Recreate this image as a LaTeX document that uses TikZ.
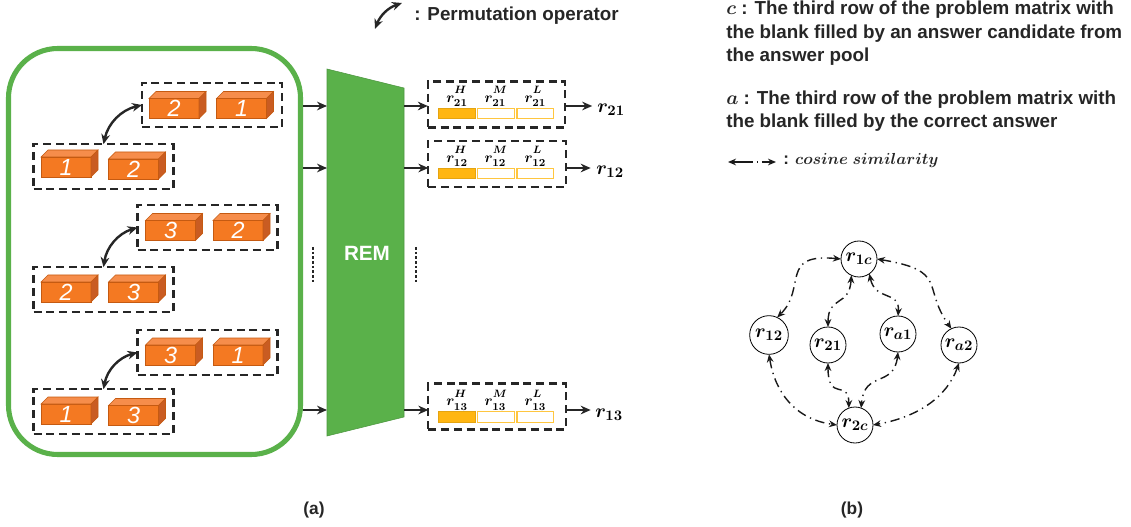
\documentclass[tikz,border=0pt]{standalone}
\usepackage[no-math]{fontspec}
\usepackage{amsmath,bm}
\setmainfont{Liberation Sans}
\usepackage{tikz}
\usetikzlibrary{arrows.meta,positioning}
\definecolor{remgreen}{HTML}{5AB14A}
\definecolor{brickfront}{HTML}{F47922}
\definecolor{bricktop}{HTML}{F68D4B}
\definecolor{brickside}{HTML}{C95C22}
\definecolor{brickline}{HTML}{C55A11}
\definecolor{barfill}{HTML}{FFB612}
\definecolor{barline}{HTML}{FFC63F}
% one brick: name, x, y, digit
\newcommand{\brick}[4]{%
    \node [brick] (#1) at (#2,#3) {#4};
    \draw [brickline,fill=bricktop,line width=0.4pt] (#1.north west) -- ++(7,-7) -- ++(50,0) -- (#1.north east) -- cycle;
    \draw [brickline,fill=brickside,line width=0.4pt] (#1.north east) -- ++(7,-7) -- ++(0,20) -- (#1.south east) -- cycle;
}
% score label with the level raised clear of the index
\newcommand{\level}[2]{$r_{#1}^{\raisebox{2.5pt}{$\scriptstyle #2$}}$}
% one row of three bars with labels: name, y of bars, index
\newcommand{\barrow}[3]{%
    \node [bar,fill=barfill,draw=barfill!90!black] (#1h) at (457,#2) {};
    \node [bar,right=2.5 of #1h] (#1m) {};
    \node [bar,right=2.5 of #1m] (#1l) {};
    \node [score,above=-1 of #1h] {\level{#3}{H}};
    \node [score,above=-1 of #1m] {\level{#3}{M}};
    \node [score,above=-1 of #1l] {\level{#3}{L}};
}
\begin{document}
\begin{tikzpicture}[x=0.75pt,y=-0.75pt]
% STYLES
\tikzset{%
    brick/.style={%
        rectangle,fill=brickfront,draw=brickline,line width=0.4pt,minimum width=37.5pt,
        minimum height=15pt,inner sep=0pt,outer sep=0pt,text=white,font=\fontsize{17.5}{15}\selectfont\itshape
    },
    group/.style={%
        rectangle,draw=black!85,line width=1.6pt,dash pattern=on 6pt off 3.6pt,
        minimum width=105pt,minimum height=33.5pt,inner sep=0pt,outer sep=0pt
    },
    output/.style={group,minimum width=103pt,minimum height=34.5pt},
    bar/.style={%
        rectangle,draw=barline,fill=white,line width=0.8pt,minimum width=27.5pt,
        minimum height=8pt,inner sep=0pt,outer sep=0pt
    },
    score/.style={inner sep=0pt,font=\fontsize{11}{11}\selectfont\boldmath},
    result/.style={inner sep=0pt,font=\fontsize{15.5}{15}\selectfont\boldmath},
    flow/.style={-{Stealth[length=7.5pt,width=6.5pt]},line width=1.8pt,black!85},
    swap/.style={{Stealth[length=7.5pt,width=6.5pt]}-{Stealth[length=7.5pt,width=6.5pt]},line width=1.8pt,black!85},
    sim/.style={{Stealth[length=6pt,width=5pt]}-{Stealth[length=6pt,width=5pt]},line width=1.05pt,black!90,dash pattern=on 7pt off 3.5pt on 1pt off 3.5pt},
    rep/.style={circle,draw=black,line width=0.6pt,fill=white,minimum size=27pt,inner sep=0pt,outer sep=0pt,font=\fontsize{15.5}{15}\selectfont\boldmath},
    note/.style={anchor=north west,inner sep=0pt,align=left,text=black!85,font=\fontsize{14.1}{17.6}\selectfont\bfseries},
    caption/.style={inner sep=0pt,text=black!85,font=\fontsize{13}{14}\selectfont\bfseries},
    dots/.style={line width=2pt,black!85,dash pattern=on 1.9pt off 1.6pt}
}
\useasboundingbox (0,0) rectangle (1131,527);
% Draw input pool
\node [draw=remgreen,line width=3.8pt,rounded corners=37pt,minimum width=219pt,minimum height=304.5pt,inner sep=0pt] (pool) at (154.5,251.5) {};
\node [group] (g1) at (212,105) {};
\node [group] (g2) at (103.5,166.5) {};
\node [group] (g3) at (207.5,227.5) {};
\node [group] (g4) at (103.5,289.5) {};
\node [group] (g5) at (207.5,352.5) {};
\node [group] (g6) at (103.5,411.5) {};
\brick{b11}{174}{108.5}{2}
\brick{b12}{241.5}{108.5}{1}
\brick{b21}{66}{167}{1}
\brick{b22}{133.5}{169}{2}
\brick{b31}{170.5}{230.5}{3}
\brick{b32}{238}{230.5}{2}
\brick{b41}{66}{292}{2}
\brick{b42}{133.5}{292}{3}
\brick{b51}{170.5}{355}{3}
\brick{b52}{238}{355}{1}
\brick{b61}{66}{414}{1}
\brick{b62}{133.5}{415.5}{3}
% Draw the permutations
\draw [swap] (g1.west) to[bend right=32] (g2.north);
\draw [swap] (g3.west) to[bend right=32] (g4.north);
\draw [swap] (g5.west) to[bend right=32] (g6.north);
% Draw REM
\fill [remgreen,draw=remgreen!85!black,line width=0.4pt] (327,69) -- (404,88) -- (404,417) -- (327,436) -- cycle;
\node [inner sep=0pt,text=white,font=\fontsize{15.5}{15}\selectfont\bfseries] (rem) at (367,253) {REM};
\coordinate (in1) at (327,106);
\coordinate (in2) at (327,168);
\coordinate (in3) at (327,410);
\coordinate (pool1) at (303,106);
\coordinate (pool2) at (303,168);
\coordinate (pool3) at (303,410);
\coordinate (out1) at (404,106);
\coordinate (out2) at (404,168);
\coordinate (out3) at (404,410);
\draw [flow] (pool1) -- (in1);
\draw [flow] (pool2) -- (in2);
\draw [flow] (pool3) -- (in3);
\draw [dots] (313,247) -- (313,283);
\draw [dots] (416,247) -- (416,283);
% Draw outputs
\node [output] (o1) at (496.5,104.5) {};
\node [output] (o2) at (497,164) {};
\node [output] (o3) at (497,406.5) {};
\barrow{a}{113.5}{21}
\barrow{c}{173.5}{12}
\barrow{e}{417}{13}
\node [result,anchor=west] (r1) at (597,110) {$r_{21}$};
\node [result,anchor=west] (r2) at (596,172) {$r_{12}$};
\node [result,anchor=west] (r3) at (595,415) {$r_{13}$};
\draw [flow] (out1) -- (o1.west |- out1);
\draw [flow] (out2) -- (o2.west |- out2);
\draw [flow] (out3) -- (o3.west |- out3);
\draw [flow] (o1.east |- out1) -- ++(27,0);
\draw [flow] (o2.east |- out2) -- ++(25,0);
\draw [flow] (o3.east |- out3) -- ++(25,0);
% Legend
\coordinate (leg1) at (375,29);
\coordinate (leg2) at (402,3);
\draw [swap] (leg1) to[bend left=25] (leg2);
\node [note,anchor=west] (legperm) at (414,15.5) {: Permutation operator};
\node [note] (legc) at (726,1) {$\bm{c}$ : The third row of the problem matrix with\\the blank filled by an answer candidate from\\the answer pool};
\node [note] (lega) at (726,90.5) {$\bm{a}$ : The third row of the problem matrix with\\the blank filled by the correct answer};
\coordinate (sim1) at (728,162);
\coordinate (sim2) at (776,162);
\draw [sim,dash pattern=on 15pt off 3pt on 0.8pt off 3pt] (sim1) -- (sim2);
\node [inner sep=0pt,anchor=west,text=black!85,font=\fontsize{12.7}{14}\selectfont\bfseries\boldmath] (legsim) at (783,161) {: $cosine\ similarity$};
% Draw similarity graph
\node [rep] (r1c) at (859,259) {$r_{1c}$};
\node [rep,minimum size=29pt] (r12) at (769,335) {$r_{12}$};
\node [rep] (r21) at (828,345) {$r_{21}$};
\node [rep] (ra1) at (898,334) {$r_{a1}$};
\node [rep] (ra2) at (959,345) {$r_{a2}$};
\node [rep] (r2c) at (855,425) {$r_{2c}$};
\draw [sim] (r1c.west) .. controls +(-62,-6) and +(30,-30) .. (r12.65);
\draw [sim] (r1c.245) .. controls +(-2,32) and +(0,-32) .. (r21.north);
\draw [sim] (r1c.305) .. controls +(6,28) and +(2,-26) .. (ra1.north);
\draw [sim] (r1c.east) .. controls +(72,12) and +(-30,-42) .. (ra2.115);
\draw [sim] (r12.south) .. controls +(6,38) and +(-42,-6) .. (r2c.west);
\draw [sim] (r21.south) .. controls +(0,40) and +(0,-30) .. (r2c.110);
\draw [sim] (ra1.south) .. controls +(-4,36) and +(3,-38) .. (r2c.70);
\draw [sim] (ra2.south) .. controls +(-12,34) and +(45,-8) .. (r2c.east);
% Captions
\node [caption] (capa) at (314,510) {(a)};
\node [caption] (capb) at (852,510) {(b)};
\end{tikzpicture}
\end{document}
